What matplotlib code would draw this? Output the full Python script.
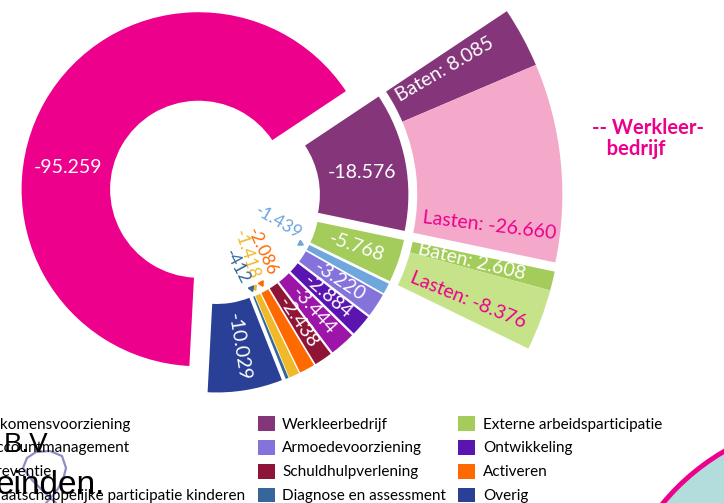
import numpy as np
import matplotlib
matplotlib.use("Agg")
import matplotlib.pyplot as plt
from matplotlib.patches import Patch, Ellipse
from matplotlib.lines import Line2D

# ---------------- data ----------------
categories = ["Inkomensvoorziening", "Werkleerbedrijf", "Externe arbeidsparticipatie",
              "Accountmanagement", "Armoedevoorziening", "Ontwikkeling",
              "Preventie", "Schuldhulpverlening", "Activeren",
              "Maatschappelijke participatie kinderen", "Diagnose en assessment", "Overig"]
values = [-95259, -18576, -5768, -1439, -3220, -2884, -3444, -2438, -2086, -1418, -412, -10029]
colors = ["#EC008C", "#85367B", "#A3CC5A", "#6FA6DC", "#8473DB", "#5A14B0",
          "#9C14A8", "#8E1538", "#FF6A00", "#F0B929", "#35679A", "#2A3F96"]

split_labels = ["Baten", "Lasten"]
werkleer_split = [8085, -26660]       # sums to Werkleerbedrijf
extern_split = [2608, -8376]          # sums to Externe arbeidsparticipatie
werkleer_split_colors = ["#85367B", "#F4A9CB"]
extern_split_colors = ["#A3CC5A", "#C6E38A"]

legend_order = [0, 3, 6, 9, 1, 4, 7, 10, 2, 5, 8, 11]


def nl(v):
    return f"{v:,}".replace(",", ".")


plt.rcParams["font.family"] = ["Lato", "DejaVu Sans"]

fig = plt.figure(figsize=(7.24, 5.03), dpi=100)
ax = fig.add_axes([0, 0, 1, 1])
ax.axis("off")

START = 267
EXPL = 0.10
wedges, _ = ax.pie(np.abs(values), colors=colors, startangle=START, counterclock=False,
                   radius=1.0, explode=[EXPL] * len(values),
                   wedgeprops=dict(width=0.5, linewidth=0))


def direc(a):
    return np.array([np.cos(np.radians(a)), np.sin(np.radians(a))])


# outer split rings for Werkleerbedrijf and Externe arbeidsparticipatie
R2, W2 = 1.87, 0.82
outer = []
for idx, parts, cols in [(1, werkleer_split, werkleer_split_colors),
                         (2, extern_split, extern_split_colors)]:
    w = wedges[idx]
    span = w.theta2 - w.theta1
    fr = np.abs(parts) / np.abs(parts).sum() * span / 360.0
    ow, _ = ax.pie(fr, normalize=False, startangle=w.theta2, counterclock=False,
                   radius=R2, center=w.center, colors=cols,
                   wedgeprops=dict(width=W2, linewidth=0))
    outer.append((ow, parts))

# ring labels
label_angle_override = {0: 170.5, 1: 9.5}
hole = {3: (0.39, -21, -30), 8: (0.41, -48, -65), 9: (0.37, -60, -72), 10: (0.41, -72, -62)}
for i, w in enumerate(wedges):
    mid = (w.theta1 + w.theta2) / 2
    txt = nl(values[i])
    if i in hole:
        rr, ang, rot = hole[i]
        p = direc(ang) * rr
        ax.text(p[0], p[1], txt, color=colors[i], fontsize=12.5, rotation=rot,
                ha="center", va="center", rotation_mode="anchor")
        t = np.array(w.center) + 0.45 * direc(mid)
        ax.plot(t[0], t[1], marker=(3, 0, mid - 90), color=colors[i], markersize=4.5,
                linestyle="none")
        continue
    ang = label_angle_override.get(i, mid)
    p = np.array(w.center) + 0.75 * direc(ang)
    rot = 0 if i in (0, 1) else mid
    ax.text(p[0], p[1], txt, color="white", fontsize=14, rotation=rot,
            ha="center", va="center", rotation_mode="anchor")

# outer labels
outer_layout = [[(1.40, 2, "white"), (1.47, -12.5, "#EC008C")],
                [(1.40, 0, "white"), (1.45, -1.5, "#EC008C")]]
for (ow, parts), lay in zip(outer, outer_layout):
    for w, v, lab, (rr, da, col) in zip(ow, parts, split_labels, lay):
        mid = (w.theta1 + w.theta2) / 2 + da
        p = np.array(w.center) + rr * direc(mid)
        ax.text(p[0], p[1], f"{lab}: {nl(v)}", color=col, fontsize=14, rotation=mid,
                ha="center", va="center", rotation_mode="anchor")

ax.set_aspect("auto")
ax.set_xlim(-214 / 177, 510 / 177)
ax.set_ylim(-305 / 177, 198 / 177)

# background decoration (slide)
fig.add_artist(Ellipse((840 / 724, 1 - 650 / 503), 460 / 724, 460 / 503,
                       transform=fig.transFigure, facecolor="#B3DCDC",
                       edgecolor="#EC008C", linewidth=3.5, zorder=0))

fig.text(592 / 724, 1 - 118 / 503, "-- Werkleer-\n   bedrijf", color="#EC008C",
         fontsize=14.5, fontweight="bold", ha="left", va="top", linespacing=1.08)

handles = [Patch(facecolor=colors[i], edgecolor="none") for i in legend_order]
labels = [categories[i] for i in legend_order]
fig.legend(handles, labels, ncol=3, loc="upper left", bbox_to_anchor=(-37 / 724, 1 - 416 / 503),
           frameon=False, fontsize=11, handlelength=1.1, handleheight=1.1,
           handletextpad=0.5, columnspacing=0.8, labelspacing=0.55,
           borderpad=0, borderaxespad=0)

fig.text(4 / 724, 1 - 452 / 503, "B.V", fontsize=20, family="Liberation Sans",
         va="baseline", ha="left")
fig.text(-4 / 724, 1 - 494 / 503, "einden.", fontsize=24, family="Liberation Sans",
         va="baseline", ha="left")

# ribbon outline (slide logo fragment)
rib_x = np.array([56, 44, 32, 23, 27, 36, 50, 62, 66, 63, 56, 46]) / 724
rib_y = 1 - np.array([503, 492, 480, 468, 458, 452, 451, 456, 468, 480, 492, 503]) / 503
fig.add_artist(Line2D(rib_x, rib_y, transform=fig.transFigure, color="#8C8EC4",
                      linewidth=1.6, solid_capstyle="round"))

fig.savefig("out.png", dpi=100)
